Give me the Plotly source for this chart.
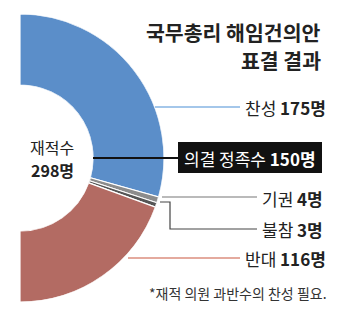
import plotly.graph_objects as go

# ---- data ----
categories = ["찬성", "기권", "불참", "반대"]
values = [175, 4, 3, 116]
total_seats = 298
quorum = 150
slice_colors = ["#5b8ec9", "#8c8c8c", "#555555", "#b36b63"]

W, H = 340, 336
FONT = "Noto Sans CJK KR"


def px(x, y):
    return x / W, 1 - y / H


# angles (degrees, clockwise from top) over a half circle
total = sum(values)
thetas, widths = [], []
acc = 0
for v in values:
    w = v / total * 180
    thetas.append(acc + w / 2)
    widths.append(w)
    acc += w

fig = go.Figure()
fig.add_trace(go.Barpolar(
    r=[1] * len(values), theta=thetas, width=widths, base=0,
    marker=dict(color=slice_colors, line=dict(color="white", width=1.2)),
    text=categories, hoverinfo="text", showlegend=False,
))

x0, y_top = px(20, 14)
x1, y_bot = px(164, 302)
fig.update_layout(
    width=W, height=H, margin=dict(l=0, r=0, t=0, b=0),
    paper_bgcolor="white", plot_bgcolor="white",
    polar=dict(
        domain=dict(x=[x0, x1], y=[y_bot, y_top]),
        sector=[-90, 90], hole=73 / 144, bgcolor="white",
        angularaxis=dict(rotation=90, direction="clockwise", visible=False,
                         showgrid=False, showline=False, ticks=""),
        radialaxis=dict(range=[0, 1], visible=False, showgrid=False,
                        showline=False, ticks=""),
    ),
    font=dict(family=FONT, color="#222222"),
)

shapes = []
annots = []


def line(pts, color, width=1.2):
    path = ""
    for i, (x, y) in enumerate(pts):
        xp, yp = px(x, y)
        path += ("M" if i == 0 else "L") + f"{xp},{yp} "
    shapes.append(dict(type="path", xref="paper", yref="paper", path=path,
                       line=dict(color=color, width=width)))


def text(x, y, s, size, anchor="left", color="#222222"):
    xp, yp = px(x, y)
    annots.append(dict(x=xp, y=yp, xref="paper", yref="paper", text=s,
                       showarrow=False, xanchor=anchor, yanchor="middle",
                       font=dict(family=FONT, size=size, color=color)))


# leader lines
line([(155, 107), (240, 107)], "#4a8fd6")
line([(93, 158), (180, 158)], "#111111", 2)
line([(162, 197), (257, 197)], "#777777")
line([(160, 202), (170, 202), (170, 229), (257, 229)], "#444444")
line([(128, 258), (240, 258)], "#c9573f")

# quorum box
bx0, by0 = px(178, 142)
bx1, by1 = px(322, 173)
shapes.append(dict(type="rect", xref="paper", yref="paper",
                   x0=bx0, x1=bx1, y0=by1, y1=by0,
                   fillcolor="#111111", line=dict(width=0)))

# labels
text(243, 107, f"{categories[0]} <b>{values[0]}명</b>", 17)
text(250, 158, f"의결 정족수 <b>{quorum}명</b>", 17, anchor="center", color="white")
text(260, 198, f"{categories[1]} <b>{values[1]}명</b>", 17)
text(260, 229, f"{categories[2]} <b>{values[2]}명</b>", 17)
text(243, 258, f"{categories[3]} <b>{values[3]}명</b>", 17)

# title
text(323, 32, "<b>국무총리 해임건의안</b>", 20.5, anchor="right")
text(323, 60, "<b>표결 결과</b>", 20.5, anchor="right")

# centre
text(52, 147, "재적수", 16, anchor="center")
text(52, 170, f"<b>{total_seats}명</b>", 16, anchor="center")

# footnote
text(147, 293, "*재적 의원 과반수의 찬성 필요.", 14, color="#333333")

fig.update_layout(shapes=shapes, annotations=annots)
fig.write_html("out.html")
